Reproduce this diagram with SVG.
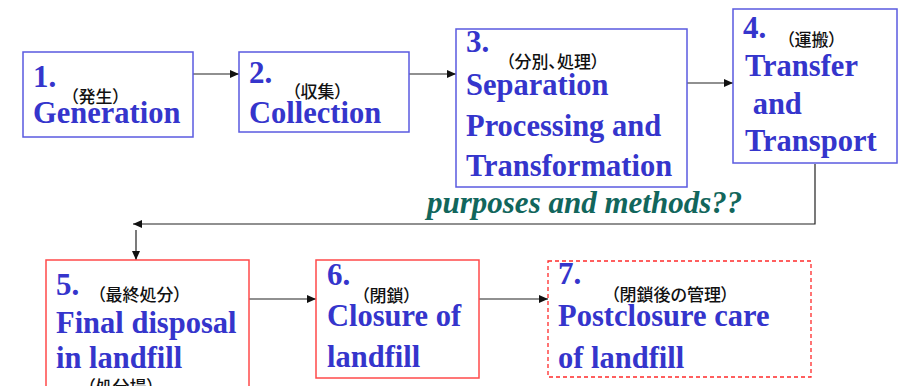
<svg xmlns="http://www.w3.org/2000/svg" width="901" height="386" viewBox="0 0 901 386">
<defs>
<marker id="arr" markerWidth="10" markerHeight="8" refX="9" refY="4" orient="auto" markerUnits="userSpaceOnUse">
<path d="M0,0 L9,4 L0,8 Z" fill="#111"/>
</marker>
<style>
.bbox{fill:#fff;stroke:#5a5ae0;stroke-width:1.5}
.rbox{fill:#fff;stroke:#ff4a4a;stroke-width:1.5}
.dbox{fill:#fff;stroke:#ff2a2a;stroke-width:1.3;stroke-dasharray:4 3}
.t{font-family:"Liberation Serif","Times New Roman",serif;font-weight:bold;font-size:30.5px;fill:#3535cc}
.n{font-family:"Liberation Serif","Times New Roman",serif;font-weight:bold;font-size:31px;fill:#3535cc}
.j{font-family:"Noto Sans CJK JP",sans-serif;font-size:17px;font-weight:500;fill:#111;font-feature-settings:"palt"}
.q{font-family:"Liberation Serif","Times New Roman",serif;font-weight:bold;font-style:italic;font-size:31px;fill:#12665c}
.c{fill:none;stroke:#222;stroke-width:1.2}
</style>
</defs>
<rect width="901" height="386" fill="#fff"/>
<g id="connectors">
<path class="c" d="M193,74 H239" marker-end="url(#arr)"/>
<path class="c" d="M409,74 H456" marker-end="url(#arr)"/>
<path class="c" d="M687,83 H733" marker-end="url(#arr)"/>
<path class="c" d="M815,164 V224 H133" marker-end="url(#arr)"/>
<path class="c" d="M136,230 V260" marker-end="url(#arr)"/>
<path class="c" d="M248,299 H316" marker-end="url(#arr)"/>
<path class="c" d="M479,299 H548" marker-end="url(#arr)"/>
</g>
<g id="node1">
<rect class="bbox" x="23" y="52" width="170" height="85"/>
<text class="n" x="33" y="87">1.</text>
<text class="j" x="70" y="103">（発生）</text>
<text class="t" x="33" y="123">Generation</text>
</g>
<g id="node2">
<rect class="bbox" x="239" y="52" width="170" height="80"/>
<text class="n" x="249" y="83">2.</text>
<text class="j" x="292" y="98">（収集）</text>
<text class="t" x="249" y="123">Collection</text>
</g>
<g id="node3">
<rect class="bbox" x="456" y="29" width="231" height="158"/>
<text class="n" x="466" y="52">3.</text>
<text class="j" x="506" y="68">（分別、処理）</text>
<text class="t" x="466" y="95">Separation</text>
<text class="t" x="466" y="136">Processing and</text>
<text class="t" x="466" y="176">Transformation</text>
</g>
<g id="node4">
<rect class="bbox" x="733" y="9" width="164" height="154"/>
<text class="n" x="743" y="38">4.</text>
<text class="j" x="786" y="46">（運搬）</text>
<text class="t" x="745" y="76">Transfer</text>
<text class="t" x="745" y="114" xml:space="preserve"> and</text>
<text class="t" x="745" y="151">Transport</text>
</g>
<text class="q" x="427" y="213">purposes and methods??</text>
<g id="node5">
<rect class="rbox" x="46" y="260" width="203" height="140"/>
<text class="n" x="56" y="295">5.</text>
<text class="j" x="97" y="301">（最終処分）</text>
<text class="t" x="56" y="333">Final disposal</text>
<text class="t" x="56" y="368">in landfill</text>
<text class="j" x="87" y="393">（処分場）</text>
</g>
<g id="node6">
<rect class="rbox" x="316" y="260" width="163" height="118"/>
<text class="n" x="327" y="285">6.</text>
<text class="j" x="361" y="302">（閉鎖）</text>
<text class="t" x="327" y="326">Closure of</text>
<text class="t" x="327" y="367">landfill</text>
</g>
<g id="node7">
<rect class="dbox" x="548" y="261" width="263" height="116"/>
<text class="n" x="558" y="284">7.</text>
<text class="j" x="611" y="301">（閉鎖後の管理）</text>
<text class="t" x="558" y="326">Postclosure care</text>
<text class="t" x="558" y="368">of landfill</text>
</g>
</svg>
